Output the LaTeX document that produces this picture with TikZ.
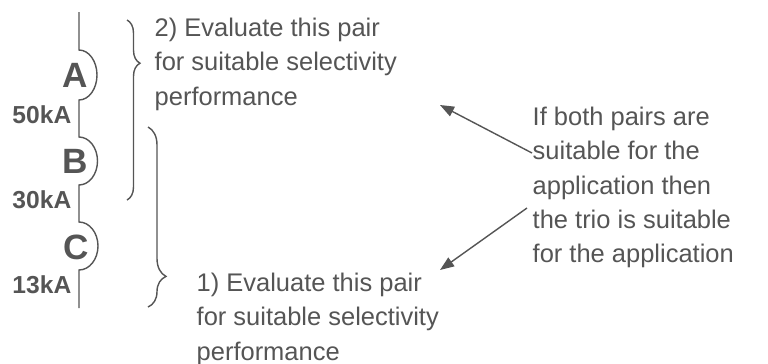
\documentclass[tikz,border=0pt]{standalone}
\usepackage{fontspec}
\setmainfont{Liberation Sans}
\usetikzlibrary{arrows.meta,decorations.pathreplacing}
\definecolor{ink}{HTML}{555555}
\begin{document}
\begin{tikzpicture}[x=0.02cm,y=0.02cm,line width=0.8pt,color=ink,
  brk/.style={font=\fontsize{20}{24}\selectfont\bfseries,inner sep=0,anchor=base east},
  cur/.style={font=\fontsize{14}{16}\selectfont\bfseries,inner sep=0,anchor=base east},
  txt/.style={font=\fontsize{14.5}{19.6}\selectfont,align=left,inner sep=0,anchor=north west},
  brc/.style={decorate,decoration={brace,amplitude=#1}},
  arr/.style={-{Triangle[length=8pt,width=6pt]}}]
  \useasboundingbox (0,0) rectangle (768,-363);
  \draw (79,-12) -- (79,-50) arc[start angle=90,end angle=-90,x radius=0.36cm,y radius=0.5cm]
    -- (79,-137) arc[start angle=90,end angle=-90,x radius=0.37cm,y radius=0.48cm]
    -- (79,-222) arc[start angle=90,end angle=-90,x radius=0.38cm,y radius=0.48cm]
    -- (79,-308);
  \node[brk] (A) at (89,-87) {A};
  \node[brk] (B) at (89,-173) {B};
  \node[brk] (C) at (90,-259) {C};
  \node[cur] (i50) at (72,-123) {50kA};
  \node[cur] (i30) at (72,-208) {30kA};
  \node[cur] (i13) at (72,-293) {13kA};
  \draw[brc=0.26cm,decoration={aspect=0.24}] (127,-20) -- (127,-200);
  \draw[brc=0.36cm,decoration={aspect=0.83}] (148,-127) -- (148,-307);
  \node[txt] (pair2) at (154,-17) {2) Evaluate this pair\\for suitable selectivity\\performance};
  \node[txt] (pair1) at (196,-272) {1) Evaluate this pair\\for suitable selectivity\\performance};
  \node[txt] (rule) at (532,-106) {If both pairs are\\suitable for the\\application then\\the trio is suitable\\for the application};
  \coordinate (s2) at (532,-153);
  \coordinate (s1) at (527,-208);
  \coordinate (t2) at (440,-105);
  \coordinate (t1) at (440,-270);
  \draw[arr] (s2) -- (t2);
  \draw[arr] (s1) -- (t1);
\end{tikzpicture}
\end{document}
